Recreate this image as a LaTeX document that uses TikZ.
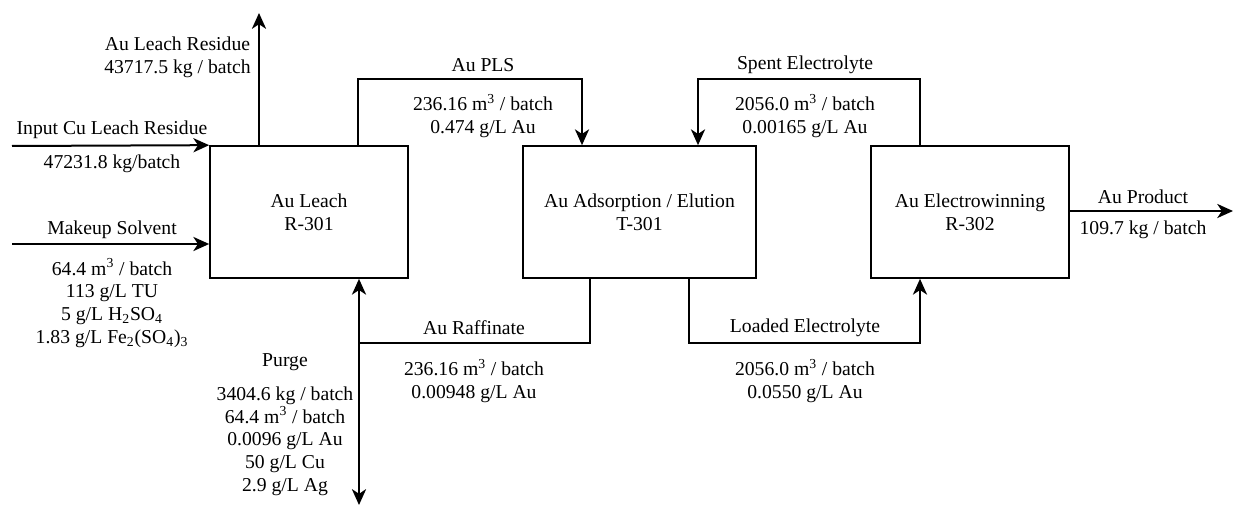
\documentclass[tikz,border=0pt]{standalone}
\usepackage{fontspec}
\setmainfont{Liberation Serif}
\usetikzlibrary{arrows.meta}
\begin{document}
\begin{tikzpicture}[x=0.6pt,y=-0.6pt,
  every node/.style={font=\fontsize{11.8}{13.6}\selectfont, inner sep=0pt},
  unit/.style={draw, line width=1pt, align=center, minimum height=79.2pt},
  flow/.style={line width=1.2pt, -{Stealth[length=9.5pt,width=8.5pt,inset=2.8pt]}},
  lbl/.style={align=center}]
\useasboundingbox (0,0) rectangle (1233,505);
% units
\node[unit, minimum width=118.8pt] (leach) at (309,212) {Au Leach\\R-301};
\node[unit, minimum width=139.8pt] (ads) at (639.5,212) {Au Adsorption / Elution\\T-301};
\node[unit, minimum width=118.8pt] (ew) at (970,212) {Au Electrowinning\\R-302};
% routing points
\coordinate (inA) at (12,146);
\coordinate (mk) at (12,244);
\coordinate (res) at (259,13);
\coordinate (p1) at (358,79);
\coordinate (p2) at (582,79);
\coordinate (s1) at (920,79);
\coordinate (s2) at (698,79);
\coordinate (r1) at (590,343);
\coordinate (r2) at (359,343);
\coordinate (purge) at (359,505);
\coordinate (l1) at (689,343);
\coordinate (l2) at (920,343);
\coordinate (prod) at (1233,211);
% connectors
\draw[flow] (inA) -- (leach.north west);
\draw[flow] (mk) -- (mk -| leach.west);
\draw[flow] (leach.north -| res) -- (res);
\draw[flow] (leach.north -| p1) -- (p1) -- (p2) -- (ads.north -| p2);
\draw[flow] (ew.north -| s1) -- (s1) -- (s2) -- (ads.north -| s2);
\draw[flow] (ads.south -| r1) -- (r1) -- (r2) -- (leach.south -| r2);
\draw[flow] (r2) -- (purge);
\draw[flow] (ads.south -| l1) -- (l1) -- (l2) -- (ew.south -| l2);
\draw[flow] (ew.east |- prod) -- (prod);
% labels
\node[lbl, anchor=east] (lres) at (251,57) {Au Leach Residue\\43717.5 kg / batch};
\node[lbl] (lin) at (112,130) {Input Cu Leach Residue};
\node[lbl] (lin2) at (112,164) {47231.8 kg/batch};
\node[lbl] (lmk) at (112,230) {Makeup Solvent};
\node[lbl] (lmk2) at (112,303) {64.4 m\textsuperscript{3} / batch\\113 g/L TU\\5 g/L H\textsubscript{2}SO\textsubscript{4}\\1.83 g/L Fe\textsubscript{2}(SO\textsubscript{4})\textsubscript{3}};
\node[lbl] (lpls) at (483,65) {Au PLS};
\node[lbl] (lpls2) at (483,116) {236.16 m\textsuperscript{3} / batch\\0.474 g/L Au};
\node[lbl] (lsp) at (805,65) {Spent Electrolyte};
\node[lbl] (lsp2) at (805,116) {2056.0 m\textsuperscript{3} / batch\\0.00165 g/L Au};
\node[lbl] (lpr) at (1143,197) {Au Product};
\node[lbl] (lpr2) at (1143,230) {109.7 kg / batch};
\node[lbl] (lraf) at (474,328) {Au Raffinate};
\node[lbl] (lraf2) at (474,381) {236.16 m\textsuperscript{3} / batch\\0.00948 g/L Au};
\node[lbl] (lpu) at (285,362) {Purge};
\node[lbl] (lpu2) at (285,441) {3404.6 kg / batch\\64.4 m\textsuperscript{3} / batch\\0.0096 g/L Au\\50 g/L Cu\\2.9 g/L Ag};
\node[lbl] (lld) at (805,328) {Loaded Electrolyte};
\node[lbl] (lld2) at (805,381) {2056.0 m\textsuperscript{3} / batch\\0.0550 g/L Au};
\end{tikzpicture}
\end{document}
